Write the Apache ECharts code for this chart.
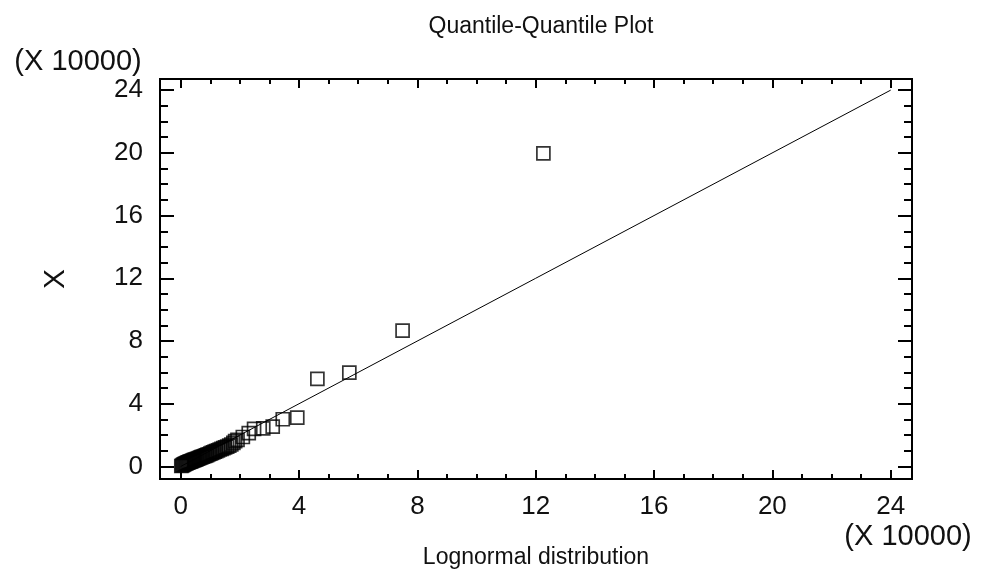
<!DOCTYPE html>
<html><head><meta charset="utf-8">
<script src="https://cdn.jsdelivr.net/npm/echarts@6/dist/echarts.min.js"></script>
<style>html,body{margin:0;padding:0;background:#fff}#c{width:981px;height:570px}</style>
</head><body><div id="c"></div>
<script>
// Data (units of 10000)
const lognormalQuantiles = [0.02,0.05,0.08,0.11,0.14,0.17,0.20,0.23,0.26,0.29,0.32,0.35,0.38,0.41,0.44,0.47,0.50,0.54,0.58,0.62,0.66,0.70,0.74,0.78,0.82,0.86,0.90,0.95,1.00,1.05,1.10,1.15,1.20,1.26,1.32,1.38,1.44,1.50,1.57,1.64,1.71,1.78,1.84,1.92,2.10,2.30,2.48,2.79,3.11,3.45,3.94,4.62,5.70,7.50,12.26];
const sampleValues = [0.03,0.06,0.10,0.13,0.16,0.19,0.21,0.24,0.26,0.29,0.31,0.33,0.36,0.38,0.40,0.42,0.44,0.47,0.50,0.53,0.56,0.59,0.62,0.65,0.68,0.71,0.74,0.78,0.82,0.86,0.90,0.94,0.98,1.03,1.08,1.12,1.17,1.22,1.27,1.33,1.40,1.50,1.62,1.70,1.88,2.13,2.40,2.43,2.54,3.01,3.11,5.58,5.98,8.66,19.97];
const refLine = [[0,0],[24,24]];
const majorTicks = [0,4,8,12,16,20,24];
const minorTicks = [1,2,3,5,6,7,9,10,11,13,14,15,17,18,19,21,22,23];
const titleText = 'Quantile-Quantile Plot';
const xName = 'Lognormal distribution';
const yName = 'X';
const scaleText = '(X 10000)';

const points = lognormalQuantiles.map((q,i)=>[q, sampleValues[i]]);
const XMIN=-0.7, XMAX=24.72, YMIN=-0.8, YMAX=24.71;
const FONT = "'Liberation Sans', Arial, sans-serif";
const NARROW = "'Liberation Sans Narrow', 'Arial Narrow', 'Liberation Sans', sans-serif";
const lineStyle = {color:'#000', width:2};

function xAx(pos, ticks, len, labels){
  return {type:'value', position:pos, min:XMIN, max:XMAX, gridIndex:0,
    axisLine:{show:true, onZero:false, lineStyle},
    axisTick:{show:true, inside:true, length:len, customValues:ticks, lineStyle:{color:'#000',width:2}},
    axisLabel: labels ? {show:true, customValues:ticks, margin:15, fontSize:26, fontFamily:FONT, color:'#111'} : {show:false},
    splitLine:{show:false}};
}
function yAx(pos, ticks, len, labels){
  return {type:'value', position:pos, min:YMIN, max:YMAX, gridIndex:0,
    axisLine:{show:true, onZero:false, lineStyle},
    axisTick:{show:true, inside:true, length:len, customValues:ticks, lineStyle:{color:'#000',width:2}},
    axisLabel: labels ? {show:true, customValues:ticks, margin:17, fontSize:26, fontFamily:FONT, color:'#111'} : {show:false},
    splitLine:{show:false}};
}

const chart = echarts.init(document.getElementById('c'), null, {renderer:'canvas'});
chart.setOption({
  animation:false,
  backgroundColor:'#fff',
  title:{text:titleText, left:536, top:10, textAlign:'center',
    textStyle:{fontSize:23, fontWeight:'normal', fontFamily:NARROW, color:'#111'}},
  grid:{left:160, top:79, width:752, height:400, containLabel:false},
  xAxis:[xAx('bottom', majorTicks, 9, true), xAx('top', majorTicks, 9, false),
         xAx('bottom', minorTicks, 5, false), xAx('top', minorTicks, 5, false)],
  yAxis:[yAx('left', majorTicks, 14, true), yAx('right', majorTicks, 14, false),
         yAx('left', minorTicks, 8, false), yAx('right', minorTicks, 8, false)],
  graphic:[
    {type:'text', x:78, y:62, style:{text:scaleText, fontSize:29, fontFamily:FONT, fill:'#111', align:'center', verticalAlign:'middle'}},
    {type:'text', x:908, y:537, style:{text:scaleText, fontSize:29, fontFamily:FONT, fill:'#111', align:'center', verticalAlign:'middle'}},
    {type:'text', x:536, y:558, style:{text:xName, fontSize:23, fontFamily:NARROW, fill:'#111', align:'center', verticalAlign:'middle'}},
    {type:'text', x:56, y:279, rotation:Math.PI/2, style:{text:yName, fontSize:30, fontFamily:FONT, fill:'#111', align:'center', verticalAlign:'middle'}}
  ],
  series:[
    {type:'line', xAxisIndex:0, yAxisIndex:0, data:refLine, symbol:'none', lineStyle:{color:'#000', width:1}, z:2},
    {type:'scatter', xAxisIndex:0, yAxisIndex:0, data:points, symbol:'rect', symbolSize:13, clip:false,
      itemStyle:{color:'rgba(0,0,0,0)', borderColor:'#000', borderWidth:1.7}, z:3}
  ]
});
</script></body></html>
